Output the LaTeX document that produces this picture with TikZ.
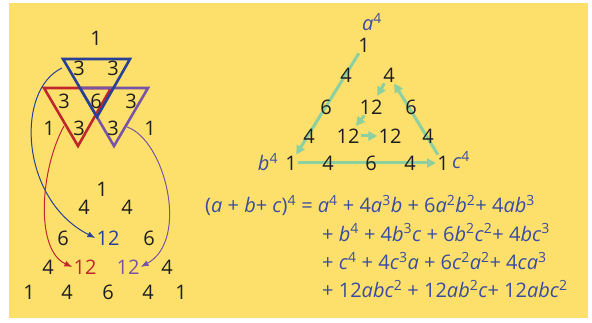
\documentclass[tikz,border=0pt]{standalone}
\usepackage{fontspec}
\setmainfont{Open Sans}
\usetikzlibrary{arrows.meta,backgrounds}
\definecolor{pagebg}{RGB}{253,224,108}
\definecolor{triblue}{RGB}{40,64,150}
\definecolor{trired}{RGB}{192,39,45}
\definecolor{tripurple}{RGB}{120,84,166}
\definecolor{mint}{RGB}{140,208,160}
\definecolor{inkblue}{RGB}{58,76,160}
\definecolor{ink}{RGB}{30,30,30}
\newcommand{\vr}[1]{\textit{#1}}
\newcommand{\pw}[1]{\textsuperscript{#1}}
\tikzset{
    >=Latex,
    num/.style={inner sep=1pt, text=ink, font=\fontsize{20}{22}\selectfont},
    lbl/.style={inner sep=1pt, text=inkblue, font=\fontsize{20}{22}\selectfont},
    eqline/.style={anchor=base west, inner sep=0pt, text=inkblue, font=\fontsize{20}{22}\selectfont},
    tri/.style={line width=2.6pt, line join=miter},
    link/.style={-{Latex[length=8pt,width=6pt]}, line width=1pt},
    garrow/.style={-{Triangle[length=9pt,width=9pt]}, draw=mint, line width=3pt}
}
\begin{document}
\begin{tikzpicture}[x=1pt, y=-1pt]
    \useasboundingbox (0,0) rectangle (592,323);
    \begin{scope}[on background layer]
    \fill[pagebg] (9,3) rectangle (588,318);
    \end{scope}

    % left: the three triangles
    \draw[tri, trired]    (44,88) -- (111,88) -- (78,146) -- cycle;
    \draw[tri, tripurple] (80,88) -- (148,88) -- (114,146) -- cycle;
    \draw[tri, triblue]   (63,59) -- (130,59) -- (97,117) -- cycle;

    \node[num] (p1)  at (96,38)  {1};
    \node[num] (p21) at (79,68)  {3};
    \node[num] (p22) at (113,68) {3};
    \node[num] (p31) at (64,101) {3};
    \node[num] (p32) at (96,101) {6};
    \node[num] (p33) at (131,101) {3};
    \node[num] (p41) at (49,128) {1};
    \node[num] (p42) at (79,128) {3};
    \node[num] (p43) at (113,128) {3};
    \node[num] (p44) at (150,128) {1};

    \node[num] (q1)  at (102,189) {1};
    \node[num] (q21) at (84,207)  {4};
    \node[num] (q22) at (127,207) {4};
    \node[num] (q31) at (63,238)  {6};
    \node[num, text=triblue] (q32) at (108,238) {12};
    \node[num] (q33) at (149,238) {6};
    \node[num] (q41) at (48,267)  {4};
    \node[num, text=trired] (q42) at (85,267) {12};
    \node[num, text=tripurple] (q43) at (128,267) {12};
    \node[num] (q44) at (167,267) {4};
    \node[num] (q51) at (29,292)  {1};
    \node[num] (q52) at (67,292)  {4};
    \node[num] (q53) at (108,292) {6};
    \node[num] (q54) at (148,292) {4};
    \node[num] (q55) at (181,292) {1};

    \coordinate (sblue) at (62,68);
    \coordinate (sred) at (64,126);
    \coordinate (spurple) at (127,127);
    \draw[link, triblue]   (sblue) .. controls (15,90) and (20,200) .. (q32.west);
    \draw[link, trired]    (sred) .. controls (40,170) and (35,250) .. (q42.west);
    \draw[link, tripurple] (spurple) .. controls (165,140) and (190,240) .. (q43.east);

    % right: trinomial triangle
    \node[lbl] (la) at (372,22)  {\vr{a}\pw{4}};
    \node[lbl] (lb) at (268,162) {\vr{b}\pw{4}};
    \node[lbl] (lc) at (461,160) {\vr{c}\pw{4}};

    \node[num] (t1)  at (364,45)  {1};
    \node[num] (t21) at (346,75)  {4};
    \node[num] (t22) at (389,75)  {4};
    \node[num] (t31) at (326,107) {6};
    \node[num] (t32) at (371,107) {12};
    \node[num] (t33) at (411,107) {6};
    \node[num] (t41) at (309,136) {4};
    \node[num] (t42) at (348,136) {12};
    \node[num] (t43) at (390,136) {12};
    \node[num] (t44) at (428,136) {4};
    \node[num] (t51) at (291,163) {1};
    \node[num] (t52) at (328,163) {4};
    \node[num] (t53) at (371,163) {6};
    \node[num] (t54) at (410,163) {4};
    \node[num] (t55) at (443,163) {1};

    \begin{scope}[on background layer]
    \draw[garrow] (t1) -- (t51);
    \draw[garrow] (t51) -- (t55);
    \draw[garrow] (t55) -- (t22);
    \draw[garrow, shorten >=3pt] (t22) -- (t32);
    \draw[garrow, shorten >=2pt] (t32) -- (t42);
    \draw[garrow] (t42) -- (t43);
    \end{scope}

    % expansion
    \node[eqline] (e1) at (205,213) {(\vr{a} + \vr{b}+ \vr{c})\pw{4} = \vr{a}\pw{4} + 4\vr{a}\pw{3}\vr{b} + 6\vr{a}\pw{2}\vr{b}\pw{2}+ 4\vr{a}\vr{b}\pw{3}};
    \node[eqline] (e2) at (322,241.5) {+ \vr{b}\pw{4} + 4\vr{b}\pw{3}\vr{c} + 6\vr{b}\pw{2}\vr{c}\pw{2}+ 4\vr{b}\vr{c}\pw{3}};
    \node[eqline] (e3) at (322,270) {+ \vr{c}\pw{4} + 4\vr{c}\pw{3}\vr{a} + 6\vr{c}\pw{2}\vr{a}\pw{2}+ 4\vr{c}\vr{a}\pw{3}};
    \node[eqline] (e4) at (322,298) {+ 12\vr{abc}\pw{2} + 12\vr{ab}\pw{2}\vr{c}+ 12\vr{abc}\pw{2}};
\end{tikzpicture}
\end{document}
